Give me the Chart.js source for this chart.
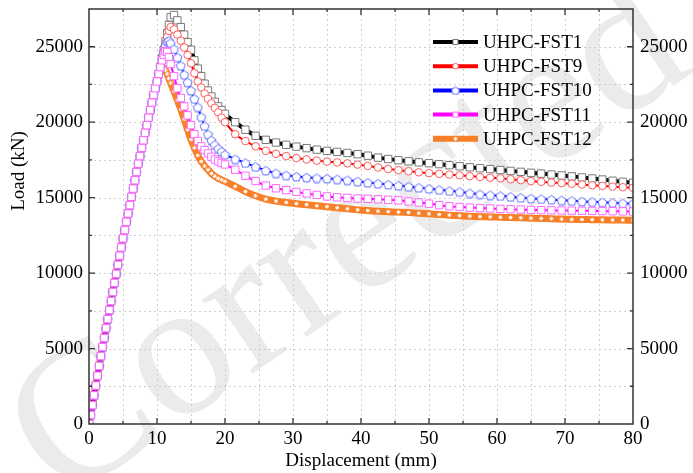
<!DOCTYPE html>
<html>
<head>
<meta charset="utf-8">
<script src="https://cdn.jsdelivr.net/npm/chart.js@4.4.0/dist/chart.umd.min.js"></script>
<style>
  html, body { margin: 0; padding: 0; background: #fff; }
  #wrap { width: 693px; height: 473px; }
</style>
</head>
<body>
<div id="wrap"><canvas id="chart"></canvas></div>
<script>
// displacement (mm) where the loads were read
var disp = [0,0.25,0.5,0.75,1,1.25,1.5,1.75,2,2.25,2.5,2.75,3,3.25,3.5,3.75,4,4.25,4.5,4.75,
  5,5.25,5.5,5.75,6,6.25,6.5,6.75,7,7.25,7.5,7.75,8,8.25,8.5,8.75,9,9.25,9.5,9.75,
  10,10.25,10.5,10.75,11,11.25,11.5,11.75,12,
  12.5,13,13.5,14,14.5,15,15.5,16,16.5,17,17.5,18,18.5,19,19.5,20,
  21.5,23,24.5,26,27.5,29,30.5,32,33.5,35,36.5,38,39.5,41,42.5,44,45.5,47,48.5,50,
  51.5,53,54.5,56,57.5,59,60.5,62,63.5,65,66.5,68,69.5,71,72.5,74,75.5,77,78.5,80];

// elastic branch, the five curves lie on top of each other up to ~10 mm
var rise = [0,600,1250,1900,2550,3200,3850,4500,5100,5700,6350,6950,7550,8150,8750,9350,9950,10550,11150,11700,
  12300,12850,13400,13950,14500,15050,15600,16150,16700,17250,17750,18300,18800,19300,19800,20300,20800,21300,21800,22250];

var fst1 = rise.concat([22700,23200,23700,24250,24800,25350,25900,26450,26950,
  27100,26750,26300,25800,25300,24800,24100,23550,23050,22550,22100,21700,21350,21050,20800,20550,
  20000,19500,19100,18830,18650,18500,18380,18280,18180,18100,18030,17960,17880,17780,17650,17560,17480,17410,17340,17280,
  17220,17150,17080,17010,16950,16890,16830,16770,16710,16650,16590,16530,16470,16410,16340,16270,16200,16120,16050,15980]);

var fst9 = rise.concat([22700,23200,23700,24200,24700,25200,25650,26050,26300,
  26150,25800,25400,24950,24450,23900,23250,22700,22300,21900,21550,21250,20950,20650,20300,20000,
  19200,18750,18400,18100,17900,17750,17620,17530,17450,17390,17330,17270,17190,17100,17000,16900,16820,16750,16680,16620,
  16580,16530,16480,16420,16370,16320,16280,16220,16160,16100,16050,16000,15960,15920,15870,15820,15780,15730,15690,15650]);

var fst10 = rise.concat([22700,23200,23700,24200,24650,25050,25350,25400,25250,
  24850,24300,23750,23150,22650,22100,21550,21000,20350,19750,19200,18800,18500,18250,18050,17850,
  17550,17300,17050,16800,16620,16480,16400,16340,16300,16270,16220,16160,16080,16000,15930,15870,15800,15730,15660,15600,
  15520,15450,15380,15300,15230,15170,15120,15060,15000,14950,14910,14870,14830,14790,14750,14720,14690,14660,14630,14600]);

var fst11 = rise.concat([22700,23200,23650,24100,24450,24700,24650,24300,23850,
  23050,22250,21600,21050,20450,19800,19200,18750,18400,18150,17930,17700,17520,17400,17300,17200,
  16850,16450,16100,15800,15620,15500,15380,15280,15180,15080,15020,14980,14940,14920,14890,14860,14820,14750,14680,14600,
  14500,14430,14380,14340,14310,14280,14250,14230,14210,14190,14170,14160,14150,14140,14130,14120,14110,14100,14090,14080]);

var fst12 = rise.concat([22650,23050,23350,23550,23600,23450,23200,22900,22600,
  22050,21450,20850,20200,19500,18850,18300,17800,17400,17100,16850,16600,16420,16280,16180,16080,
  15750,15400,15120,14900,14770,14680,14600,14530,14460,14400,14330,14260,14190,14140,14100,14070,14040,14010,13970,13930,
  13880,13840,13800,13770,13740,13720,13700,13680,13660,13640,13620,13600,13580,13560,13550,13540,13530,13520,13510,13500]);

var xTicks = [0,10,20,30,40,50,60,70,80];
var yTicks = [0,5000,10000,15000,20000,25000];

var serif = "'Liberation Serif', 'Times New Roman', serif";

function pentagon(size, color) {
    var c = document.createElement('canvas');
    c.width = size; c.height = size;
    var g = c.getContext('2d');
    var r = size / 2 - 0.8;
    g.beginPath();
    for (var k = 0; k < 5; k++) {
        var a = -Math.PI / 2 + k * 2 * Math.PI / 5;
        var px = size / 2 + r * Math.cos(a), py = size / 2 + 0.6 + r * Math.sin(a);
        if (k === 0) g.moveTo(px, py); else g.lineTo(px, py);
    }
    g.closePath();
    g.fillStyle = '#fff'; g.fill();
    g.strokeStyle = color; g.lineWidth = 1; g.stroke();
    return c;
}

var pent = pentagon(11, '#5b6bff');
var pentSmall = pentagon(10, '#5b6bff');

function pts(load) {
    return disp.map(function(x, i) { return {x: x, y: load[i]}; });
}

var series = [
    {label: 'UHPC-FST1', data: pts(fst1), borderColor: '#000000', borderWidth: 4, pointStyle: 'rect', pointRadius: 5.2, pointBorderColor: '#7a7a7a', order: 4},
    {label: 'UHPC-FST9', data: pts(fst9), borderColor: '#ff0000', borderWidth: 2, pointStyle: 'circle', pointRadius: 3.8, pointBorderColor: '#ff5c5c', order: 3},
    {label: 'UHPC-FST10', data: pts(fst10), borderColor: '#0000ff', borderWidth: 2, pointStyle: pent, pointRadius: 5, pointBorderColor: '#5b6bff', order: 2},
    {label: 'UHPC-FST11', data: pts(fst11), borderColor: '#ff00ff', borderWidth: 2, pointStyle: 'rect', pointRadius: 5.2, pointBorderColor: '#ff66ff', order: 1},
    {label: 'UHPC-FST12', data: pts(fst12), borderColor: '#f77f27', borderWidth: 7, pointStyle: 'star', pointRadius: 2, pointBorderColor: '#ffffff', order: 5}
];
series.forEach(function(s) {
    s.pointBackgroundColor = '#ffffff';
    s.pointBorderWidth = 1;
    s.tension = 0.2;
    s.fill = false;
});

var decor = {
    id: 'decor',
    beforeDraw: function(chart) {
        var ctx = chart.ctx;
        ctx.save();
        ctx.fillStyle = '#fff';
        ctx.fillRect(0, 0, chart.width, chart.height);
        // "Corrected" stamp across the figure
        ctx.translate(350, 245);
        ctx.rotate(-0.6);
        ctx.font = '195px ' + serif;
        ctx.fillStyle = '#ebebeb';
        ctx.textAlign = 'center';
        ctx.textBaseline = 'middle';
        ctx.fillText('Corrected', 0, 0);
        ctx.restore();
    },
    beforeDatasetsDraw: function(chart) {
        var ctx = chart.ctx, a = chart.chartArea;
        var xs = chart.scales.x, ys = chart.scales.y;
        ctx.save();
        ctx.strokeStyle = '#cfcfcf';
        ctx.lineWidth = 1;
        ctx.setLineDash([2, 3]);
        for (var v = 5; v < 80; v += 5) {
            var px = Math.round(xs.getPixelForValue(v)) + 0.5;
            ctx.beginPath(); ctx.moveTo(px, a.top); ctx.lineTo(px, a.bottom); ctx.stroke();
        }
        for (var w = 2500; w < 27500; w += 2500) {
            var py = Math.round(ys.getPixelForValue(w)) + 0.5;
            ctx.beginPath(); ctx.moveTo(a.left, py); ctx.lineTo(a.right, py); ctx.stroke();
        }
        ctx.restore();
    },
    afterDatasetsDraw: function(chart) {
        var ctx = chart.ctx, a = chart.chartArea;
        var xs = chart.scales.x, ys = chart.scales.y;
        ctx.save();
        ctx.strokeStyle = '#333';
        ctx.lineWidth = 1.5;
        ctx.strokeRect(a.left, a.top, a.right - a.left, a.bottom - a.top);
        ctx.lineWidth = 1.3;
        for (var v = 5; v < 80; v += 5) {
            var px = xs.getPixelForValue(v);
            var len = v % 10 === 0 ? 6 : 3;
            ctx.beginPath();
            ctx.moveTo(px, a.bottom); ctx.lineTo(px, a.bottom - len);
            ctx.moveTo(px, a.top); ctx.lineTo(px, a.top + len);
            ctx.stroke();
        }
        for (var w = 2500; w < 27500; w += 2500) {
            var py = ys.getPixelForValue(w);
            var l2 = w % 5000 === 0 ? 6 : 3;
            ctx.beginPath();
            ctx.moveTo(a.left, py); ctx.lineTo(a.left + l2, py);
            ctx.moveTo(a.right, py); ctx.lineTo(a.right - l2, py);
            ctx.stroke();
        }

        // y axis title, sits above the middle as in the figure
        ctx.save();
        ctx.translate(19, 171);
        ctx.rotate(-Math.PI / 2);
        ctx.font = '19px ' + serif;
        ctx.fillStyle = '#000';
        ctx.textAlign = 'center';
        ctx.textBaseline = 'middle';
        ctx.fillText('Load (kN)', 0, 0);
        ctx.restore();

        // legend
        var x0 = 433, x1 = 478, y0 = 42, dy = 24.2;
        series.forEach(function(s, i) {
            var y = y0 + i * dy;
            var mx = (x0 + x1) / 2;
            ctx.setLineDash([]);
            ctx.strokeStyle = s.borderColor;
            ctx.lineWidth = i === 4 ? 6 : 4;
            ctx.beginPath(); ctx.moveTo(x0, y); ctx.lineTo(x1, y); ctx.stroke();
            ctx.lineWidth = 1;
            ctx.fillStyle = '#fff';
            ctx.strokeStyle = s.pointBorderColor;
            if (i === 0 || i === 3) {
                ctx.fillRect(mx - 2.5, y - 2.5, 5, 5);
                ctx.strokeRect(mx - 2.5, y - 2.5, 5, 5);
            } else if (i === 1) {
                ctx.beginPath(); ctx.arc(mx, y, 2.8, 0, Math.PI * 2); ctx.fill(); ctx.stroke();
            } else if (i === 2) {
                ctx.drawImage(pentSmall, mx - 5, y - 5);
            } else {
                Chart.helpers.drawPoint(ctx, {pointStyle: 'star', radius: 2, borderWidth: 1, rotation: 0}, mx, y);
            }
            ctx.fillStyle = '#000';
            ctx.font = '19px ' + serif;
            ctx.textAlign = 'left';
            ctx.textBaseline = 'middle';
            ctx.fillText(s.label, 483, y + 1);
        });
        ctx.restore();
    }
};

function yLabel(v) { return yTicks.indexOf(v) >= 0 ? String(v) : ''; }

function noPad(s) {
    s.paddingTop = 0; s.paddingBottom = 0; s.paddingLeft = 0; s.paddingRight = 0;
}

new Chart(document.getElementById('chart'), {
    type: 'line',
    data: {datasets: series},
    options: {
        responsive: true,
        maintainAspectRatio: false,
        animation: false,
        devicePixelRatio: 1,
        layout: {padding: {top: 9, left: 0, right: 0, bottom: 0}},
        plugins: {legend: {display: false}, tooltip: {enabled: false}},
        scales: {
            x: {
                type: 'linear', min: 0, max: 80,
                grid: {display: false, drawTicks: false},
                border: {display: false},
                afterBuildTicks: function(s) { s.ticks = xTicks.map(function(v) { return {value: v}; }); },
                ticks: {color: '#000', font: {family: serif, size: 19}, padding: 4, maxRotation: 0, autoSkip: false,
                        callback: function(v) { return String(v); }},
                title: {display: true, text: 'Displacement (mm)', color: '#000', font: {family: serif, size: 19}, padding: {top: 0, bottom: 1}},
                afterFit: function(s) { s.height = 49; noPad(s); }
            },
            y: {
                type: 'linear', min: 0, max: 27500, position: 'left',
                grid: {display: false, drawTicks: false},
                border: {display: false},
                afterBuildTicks: function(s) { s.ticks = yTicks.map(function(v) { return {value: v}; }); },
                ticks: {color: '#000', font: {family: serif, size: 19}, padding: 6, callback: yLabel},
                afterFit: function(s) { s.width = 89; noPad(s); }
            },
            y2: {
                type: 'linear', axis: 'y', min: 0, max: 27500, position: 'right',
                grid: {display: false, drawTicks: false},
                border: {display: false},
                afterBuildTicks: function(s) { s.ticks = yTicks.map(function(v) { return {value: v}; }); },
                ticks: {color: '#000', font: {family: serif, size: 19}, padding: 7, callback: yLabel},
                afterFit: function(s) { s.width = 60; noPad(s); }
            }
        }
    },
    plugins: [decor]
});
</script>
</body>
</html>
